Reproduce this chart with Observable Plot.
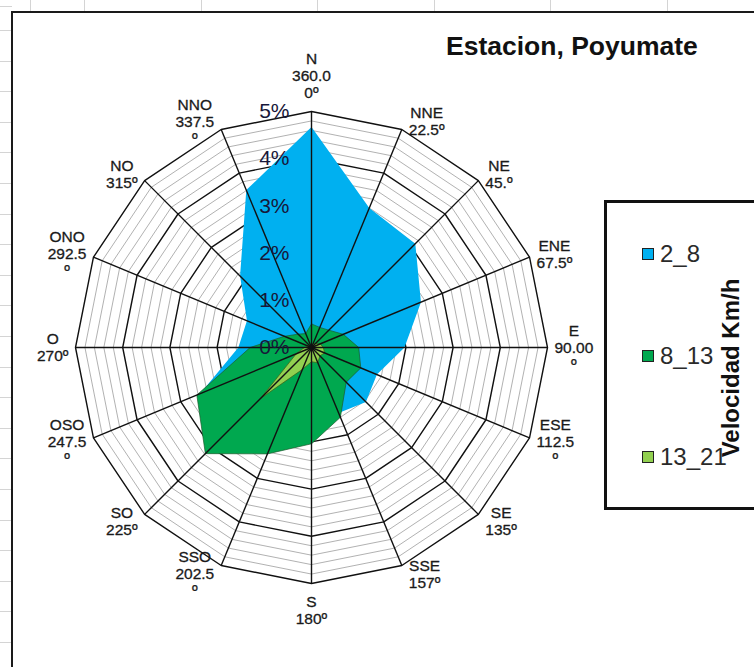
<!DOCTYPE html>
<html>
<head>
<meta charset="utf-8">
<script src="https://cdn.jsdelivr.net/npm/d3@7"></script>
<script src="https://cdn.jsdelivr.net/npm/@observablehq/plot@0.6"></script>
<style>
  body { margin: 0; background: #fff; }
  #page { position: relative; width: 754px; height: 667px; overflow: hidden; background: #fff;
          font-family: "Liberation Sans", Arial, sans-serif; }
  .sheet-top { position: absolute; left: 0; top: 0; width: 754px; height: 12px;
    background-image: repeating-linear-gradient(to right, #d4d4d4 0 1px, transparent 1px 116.6px);
    background-position: 84px 0; }
  .sheet-left { position: absolute; left: 0; top: 0; width: 12px; height: 667px;
    background-image: repeating-linear-gradient(to bottom, #d4d4d4 0 1px, transparent 1px 30.6px);
    background-position: 0 30px; }
  .chart-box { position: absolute; left: 11px; top: 11px; width: 780px; height: 720px;
    border: 2px solid #1a1a1a; background: #fff; }
  #plot { position: absolute; left: 0; top: 0; }
  .title { position: absolute; left: 446px; top: 33px; font-weight: bold; font-size: 26.5px;
    line-height: 1; color: #111; white-space: nowrap; }
  .legend { position: absolute; left: 604px; top: 200px; width: 180px; height: 304px;
    border: 3px solid #111; background: #fff; }
  .legend .item { position: absolute; left: 35px; display: flex; align-items: center;
    font-size: 24px; color: #2a2a2a; line-height: 1; }
  .legend .swatch { width: 10px; height: 10px; border: 1px solid #222; margin-right: 6px; }
  .legend .vtitle { position: absolute; left: 124px; top: 165px; transform: translate(-50%, -50%) rotate(-90deg);
    font-weight: bold; font-size: 24px; color: #111; white-space: nowrap; }
</style>
</head>
<body>
<div id="page">
  <div class="sheet-top"></div>
  <div class="sheet-left"></div>
  <div class="chart-box"></div>
  <div id="plot"></div>
  <div class="title">Estacion, Poyumate</div>
  <div class="legend" id="legend"><div class="vtitle">Velocidad Km/h</div></div>
</div>
<script>
// Wind directions (clockwise from north) and their degree captions
const directions = ["N", "NNE", "NE", "ENE", "E", "ESE", "SE", "SSE",
                    "S", "SSO", "SO", "OSO", "O", "ONO", "NO", "NNO"];
const degreeLabels = ["360.0\n0º", "22.5º", "45.º", "67.5º", "90.00\nº", "112.5\nº", "135º", "157º",
                      "180º", "202.5\nº", "225º", "247.5\nº", "270º", "292.5\nº", "315º", "337.5\nº"];

// Frequency (%) per direction for each wind-speed class
const seriesNames = ["2_8", "8_13", "13_21"];
const seriesColors = ["#00b0f0", "#00a84f", "#92d050"];
const seriesStrokes = ["none", "#1d5a2c", "#3f5d14"];
const speed2to8 = [4.67, 3.20, 3.11, 2.51, 1.97, 1.50, 1.63, 1.50, 1.30, 1.50, 2.00, 2.55, 1.55, 1.48, 2.14, 3.61];
const speed8to13 = [0.50, 0.46, 0.52, 0.73, 1.00, 1.13, 1.04, 1.60, 2.04, 2.44, 3.18, 2.63, 1.30, 0.62, 0.40, 0.32];
const speed13to21 = [0.05, 0.08, 0.12, 0.20, 0.25, 0.30, 0.25, 0.35, 0.30, 0.50, 1.53, 0.35, 0.15, 0.08, 0.05, 0.05];

// Radial axis
const percentTicks = [0, 1, 2, 3, 4, 5];
const minorStep = 0.2;

// Layout of the radar inside the page
const W = 754, H = 667;
const cx = 311, cy = 347;   // centre in pixels
const pxPerUnit = 47.2;     // pixels per 1 %
const rMax = d3.max(percentTicks);

const n = directions.length;
const angle = i => (i % n) * 2 * Math.PI / n;
const polar = (r, i) => ({x: r * Math.sin(angle(i)), y: r * Math.cos(angle(i))});
const polygon = values => d3.range(n + 1).map(i => polar(values[i % n], i));

// Concentric gridline polygons
const minorRings = d3.range(1, Math.round(rMax / minorStep) + 1)
  .map(j => j * minorStep)
  .filter(r => Math.abs(r - Math.round(r)) > 1e-6);
const ringPoints = rs => rs.flatMap(r => d3.range(n + 1).map(i => ({r, ...polar(r, i)})));

// Direction labels: set beside the outer vertex, horizontally clear of it
const labelSize = 15.5;
const ctx = document.createElement("canvas").getContext("2d");
ctx.font = `${labelSize}px 'Liberation Sans', Arial, sans-serif`;
const lineH = 17;
const gap = 7;
const labels = directions.map((d, i) => {
  const lines = [d, ...degreeLabels[i].split("\n")];
  const w = d3.max(lines, s => ctx.measureText(s).width);
  const h = lines.length * lineH;
  const a = angle(i);
  const s = Math.sin(a), c = Math.cos(a);
  const v = polar(rMax, i);
  let dx, dy;
  if (Math.abs(s) > 0.1) { dx = Math.sign(s) * (w / 2 + gap); dy = c * 9; }
  else { dx = 0; dy = Math.sign(c) * (h / 2 + 10); }
  return {text: lines.join("\n"), x: v.x + dx / pxPerUnit, y: v.y + dy / pxPerUnit};
});

const series = [speed2to8, speed8to13, speed13to21];

const chart = Plot.plot({
  width: W,
  height: H,
  margin: 0,
  x: {domain: [-cx / pxPerUnit, (W - cx) / pxPerUnit], axis: null},
  y: {domain: [-(H - cy) / pxPerUnit, cy / pxPerUnit], axis: null},
  style: {background: "transparent", fontFamily: "'Liberation Sans', Arial, sans-serif", overflow: "visible"},
  marks: [
    Plot.line(ringPoints(minorRings), {x: "x", y: "y", z: "r", stroke: "#a8a8a8", strokeWidth: 0.9}),
    Plot.line(ringPoints(percentTicks.filter(t => t > 0)), {x: "x", y: "y", z: "r", stroke: "#111", strokeWidth: 1.4}),
    ...series.map((vals, s) => Plot.line(polygon(vals), {
      x: "x", y: "y",
      fill: seriesColors[s],
      stroke: seriesStrokes[s],
      strokeWidth: 0.7
    })),
    Plot.link(d3.range(n), {
      x1: 0, y1: 0,
      x2: i => polar(rMax, i).x,
      y2: i => polar(rMax, i).y,
      stroke: "#111", strokeWidth: 1.4
    }),
    Plot.text(percentTicks, {
      x: 0, y: d => d, text: d => `${d}%`,
      dx: -22, textAnchor: "end", fontSize: 21, fill: "#17173a"
    }),
    Plot.text(labels, {
      x: "x", y: "y", text: "text",
      fontSize: labelSize, lineHeight: lineH / labelSize, fill: "#1a1a1a",
      stroke: "#1a1a1a", strokeWidth: 0.3, textAnchor: "middle"
    })
  ]
});
document.getElementById("plot").appendChild(chart);

// Legend entries
const legend = document.getElementById("legend");
seriesNames.forEach((name, s) => {
  const item = document.createElement("div");
  item.className = "item";
  item.style.top = `${39 + s * 101.5}px`;
  const sw = document.createElement("span");
  sw.className = "swatch";
  sw.style.background = seriesColors[s];
  item.appendChild(sw);
  item.appendChild(document.createTextNode(name));
  legend.appendChild(item);
});
</script>
</body>
</html>
